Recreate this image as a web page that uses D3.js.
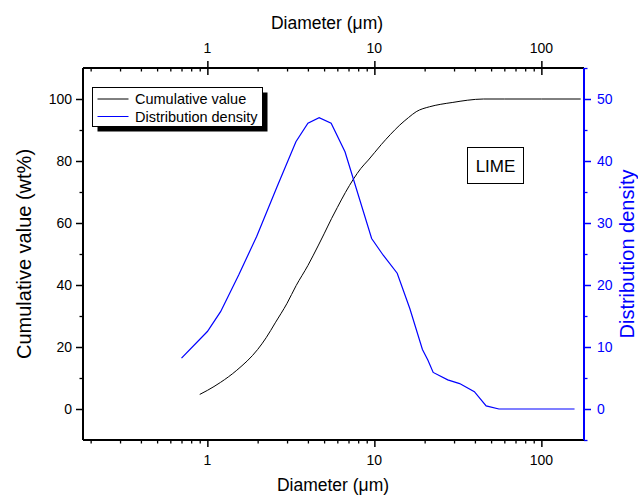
<!DOCTYPE html>
<html>
<head>
<meta charset="utf-8">
<script src="https://cdn.jsdelivr.net/npm/d3@7"></script>
<style>
  body { margin: 0; background: #fff; }
  svg { display: block; font-family: "Liberation Sans", Arial, sans-serif; }
</style>
</head>
<body>
<svg id="chart"></svg>
<script>
// cumulative curve (left axis, wt%)
const cumDiameter = [0.9, 1.0, 1.2, 1.5, 2.0, 2.25, 2.55, 3.0, 3.4, 4.0, 4.6, 5.0, 5.55, 6.0, 6.7, 7.5, 8.3, 9.2, 11, 12.5, 14.2, 16, 17.8, 21.4, 25, 29.5, 36, 45, 60, 100, 172];
const cumValue    = [4.7, 6.0, 8.6, 12.5, 19.2, 23.0, 27.8, 34.1, 39.8, 46.3, 52.6, 56.5, 61.5, 65.0, 69.8, 74.2, 77.6, 80.3, 85.3, 88.6, 91.6, 94.0, 95.9, 97.5, 98.3, 98.9, 99.6, 100, 100, 100, 100];

// distribution density (right axis)
const densDiameter = [0.70, 1.0, 1.2, 1.54, 1.97, 2.61, 3.39, 4.0, 4.67, 5.51, 6.67, 9.63, 11.3, 13.7, 16.3, 19.4, 20.9, 22.5, 27.5, 32.4, 39.7, 46.7, 55.7, 80, 120, 158];
const densValue    = [8.2, 12.5, 15.7, 21.6, 27.8, 35.8, 43.1, 46.1, 47.0, 46.1, 41.5, 27.5, 24.8, 21.9, 16.2, 9.6, 7.9, 5.9, 4.7, 4.1, 2.8, 0.5, 0, 0, 0, 0];

// ticks
const xMajor = [1, 10, 100];
const xMinor = [0.2, 0.3, 0.4, 0.5, 0.6, 0.7, 0.8, 0.9, 2, 3, 4, 5, 6, 7, 8, 9, 20, 30, 40, 50, 60, 70, 80, 90];
const leftMajor = [0, 20, 40, 60, 80, 100];
const leftMinor = [10, 30, 50, 70, 90];
const rightMajor = [0, 10, 20, 30, 40, 50];
const rightMinor = [-5, 5, 15, 25, 35, 45, 55];

const width = 638, height = 496;
const margin = { top: 68, right: 54, bottom: 56, left: 83 };
const innerWidth = width - margin.left - margin.right;
const innerHeight = height - margin.top - margin.bottom;
const blue = "#0000ff";

const svg = d3.select("#chart").attr("width", width).attr("height", height);
const g = svg.append("g").attr("transform", `translate(${margin.left},${margin.top})`);

// --- SCALES ---
const x = d3.scaleLog().domain([0.18, 180]).range([0, innerWidth]);
const yLeft = d3.scaleLinear().domain([-10, 110]).range([innerHeight, 0]);
const yRight = d3.scaleLinear().domain([-5, 55]).range([innerHeight, 0]);

function styleAxis(sel, color, lw) {
  sel.select(".domain").remove();
  sel.selectAll(".tick text").remove();
  sel.selectAll(".tick line").attr("stroke", color).attr("stroke-width", lw);
}

// --- TICKS ---
const axBottom = g.append("g").attr("transform", `translate(0,${innerHeight})`);
axBottom.append("g").call(d3.axisBottom(x).tickValues(xMinor).tickSize(3.5)).call(s => styleAxis(s, "#000", 1.3));
axBottom.append("g").call(d3.axisBottom(x).tickValues(xMajor).tickSize(7)).call(s => styleAxis(s, "#000", 1.5));

const axTop = g.append("g");
axTop.append("g").call(d3.axisBottom(x).tickValues(xMinor).tickSize(3.5)).call(s => styleAxis(s, "#000", 1.3));
axTop.append("g").call(d3.axisBottom(x).tickValues(xMajor).tickSize(7)).call(s => styleAxis(s, "#000", 1.5));
axTop.append("g").call(d3.axisTop(x).tickValues(xMajor).tickSize(7)).call(s => styleAxis(s, "#000", 1.5));

const axLeft = g.append("g");
axLeft.append("g").call(d3.axisLeft(yLeft).tickValues(leftMinor).tickSize(3.5)).call(s => styleAxis(s, "#000", 1.3));
axLeft.append("g").call(d3.axisLeft(yLeft).tickValues(leftMajor).tickSize(7)).call(s => styleAxis(s, "#000", 1.5));

const axRight = g.append("g").attr("transform", `translate(${innerWidth},0)`);
axRight.append("g").call(d3.axisRight(yRight).tickValues(rightMinor).tickSize(3.5)).call(s => styleAxis(s, blue, 1.3));
axRight.append("g").call(d3.axisRight(yRight).tickValues(rightMajor).tickSize(7)).call(s => styleAxis(s, blue, 1.5));

// --- TICK LABELS ---
const labels = svg.append("g").style("font-size", "14px");
xMajor.forEach(v => {
  labels.append("text").attr("x", margin.left + x(v)).attr("y", margin.top + innerHeight + 25)
    .attr("text-anchor", "middle").text(v);
  labels.append("text").attr("x", margin.left + x(v)).attr("y", margin.top - 15)
    .attr("text-anchor", "middle").text(v);
});
leftMajor.forEach(v => {
  labels.append("text").attr("x", margin.left - 11).attr("y", margin.top + yLeft(v) + 5)
    .attr("text-anchor", "end").text(v);
});
rightMajor.forEach(v => {
  labels.append("text").attr("x", margin.left + innerWidth + 13).attr("y", margin.top + yRight(v) + 5)
    .attr("fill", blue).text(v);
});

// frame lines
g.append("line").attr("x1", 0).attr("x2", innerWidth).attr("y1", innerHeight).attr("y2", innerHeight)
  .attr("stroke", "#000").attr("stroke-width", 2);
g.append("line").attr("x1", 0).attr("x2", innerWidth).attr("y1", 0).attr("y2", 0)
  .attr("stroke", "#000").attr("stroke-width", 2);
g.append("line").attr("x1", 0).attr("x2", 0).attr("y1", 0).attr("y2", innerHeight)
  .attr("stroke", "#000").attr("stroke-width", 2);
g.append("line").attr("x1", innerWidth).attr("x2", innerWidth).attr("y1", 0).attr("y2", innerHeight)
  .attr("stroke", blue).attr("stroke-width", 2);

// --- LINES ---
const cumData = cumDiameter.map((d, i) => ({ x: d, y: cumValue[i] }));
const densData = densDiameter.map((d, i) => ({ x: d, y: densValue[i] }));

g.append("path").datum(cumData)
  .attr("fill", "none").attr("stroke", "#000").attr("stroke-width", 1)
  .attr("d", d3.line().x(d => x(d.x)).y(d => yLeft(d.y)).curve(d3.curveMonotoneX));

g.append("path").datum(densData)
  .attr("fill", "none").attr("stroke", blue).attr("stroke-width", 1.2)
  .attr("d", d3.line().x(d => x(d.x)).y(d => yRight(d.y)));

// --- AXIS TITLES ---
svg.append("text").attr("x", 327).attr("y", 29).attr("text-anchor", "middle")
  .style("font-size", "17.5px").text("Diameter (μm)");
svg.append("text").attr("x", 333).attr("y", 491).attr("text-anchor", "middle")
  .style("font-size", "17.5px").text("Diameter (μm)");
svg.append("text").attr("text-anchor", "middle")
  .attr("x", -(margin.top + innerHeight / 2)).attr("y", 31)
  .attr("transform", "rotate(-90)")
  .style("font-size", "20px").text("Cumulative value (wt%)");
svg.append("text").attr("text-anchor", "middle").attr("fill", blue)
  .attr("x", -(margin.top + innerHeight / 2)).attr("y", 634)
  .attr("transform", "rotate(-90)")
  .style("font-size", "20px").text("Distribution density");

// --- LEGEND ---
const legend = svg.append("g").attr("transform", "translate(92.5,87.5)");
legend.append("rect").attr("x", 5).attr("y", 5).attr("width", 170).attr("height", 39).attr("fill", "#000");
legend.append("rect").attr("width", 170).attr("height", 39).attr("fill", "#fff")
  .attr("stroke", "#000").attr("stroke-width", 1);
const legendItems = [
  { label: "Cumulative value", color: "#000" },
  { label: "Distribution density", color: blue }
];
legendItems.forEach((it, i) => {
  const yy = 11.5 + i * 17.5;
  legend.append("line").attr("x1", 5).attr("x2", 36).attr("y1", yy).attr("y2", yy)
    .attr("stroke", it.color).attr("stroke-width", 1);
  legend.append("text").attr("x", 42.5).attr("y", yy + 5).style("font-size", "14.5px").text(it.label);
});

// --- LIME LABEL ---
svg.append("rect").attr("x", 467.5).attr("y", 147.5).attr("width", 56).attr("height", 36)
  .attr("fill", "#fff").attr("stroke", "#000").attr("stroke-width", 1);
svg.append("text").attr("x", 495.5).attr("y", 172).attr("text-anchor", "middle")
  .style("font-size", "17px").text("LIME");
</script>
</body>
</html>
